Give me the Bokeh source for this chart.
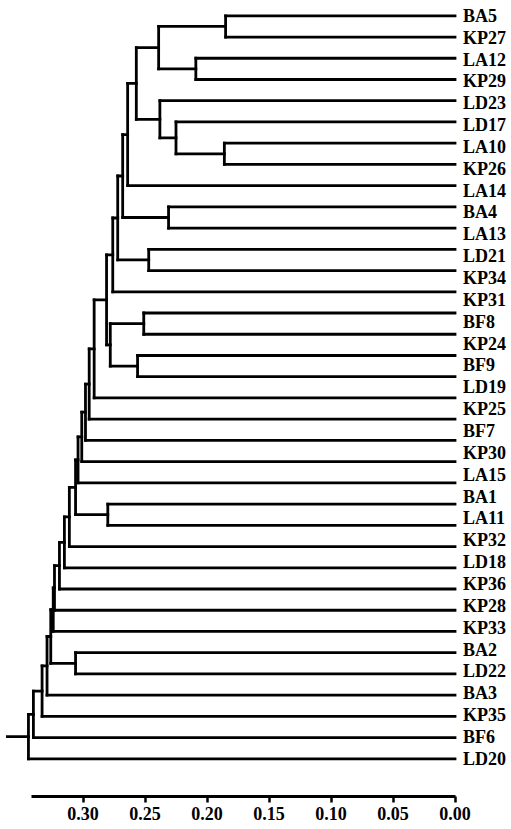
from bokeh.plotting import figure
from bokeh.models import Range1d, LinearAxis, FixedTicker, NumeralTickFormatter, ColumnDataSource
from bokeh.core.properties import value
from bokeh.embed import file_html
from bokeh.resources import INLINE

# ---- data -------------------------------------------------------------
# leaf order from top to bottom ("" = a branch drawn without a label)
leaves = ["BA5", "KP27", "LA12", "KP29", "LD23", "LD17", "LA10", "KP26",
          "LA14", "BA4", "LA13", "LD21", "KP34", "KP31", "BF8", "KP24",
          "BF9", "LD19", "", "KP25", "BF7", "KP30", "LA15", "BA1", "LA11",
          "KP32", "LD18", "KP36", "KP28", "KP33", "BA2", "LD22", "BA3",
          "KP35", "BF6", "LD20"]

# merges (node n1 ... n35 in order): child a, child b, distance
merge_a = ["BA5", "LA12", "n1", "LA10", "LD17", "LD23", "n3", "n7", "BA4",
           "n8", "LD21", "n10", "n12", "BF8", "BF9", "n14", "n13", "n17",
           "n18", "n19", "n20", "n21", "BA1", "n22", "n24", "n25", "n26",
           "n27", "n28", "BA2", "n29", "n31", "n32", "n33", "n34"]
merge_b = ["KP27", "KP29", "n2", "KP26", "n4", "n5", "n6", "LA14", "LA13",
           "n9", "KP34", "n11", "KP31", "KP24", "LD19", "n15", "n16", "",
           "KP25", "BF7", "KP30", "LA15", "LA11", "n23", "KP32", "LD18",
           "KP36", "KP28", "KP33", "LD22", "n30", "BA3", "KP35", "BF6",
           "LD20"]
merge_h = [0.185, 0.209, 0.239, 0.186, 0.225, 0.238, 0.257, 0.264, 0.231,
           0.268, 0.247, 0.272, 0.276, 0.251, 0.256, 0.278, 0.281, 0.291,
           0.295, 0.298, 0.301, 0.304, 0.280, 0.306, 0.311, 0.315, 0.319,
           0.323, 0.324, 0.306, 0.326, 0.329, 0.333, 0.340, 0.344]

axis_ticks = [0.00, 0.05, 0.10, 0.15, 0.20, 0.25, 0.30]
axis_end = 0.3415

# ---- build segments ---------------------------------------------------
pos = {name: (float(i), 0.0) for i, name in enumerate(leaves)}
x0, y0, x1, y1 = [], [], [], []
for k, (a, b, h) in enumerate(zip(merge_a, merge_b, merge_h)):
    ya, ha = pos[a]
    yb, hb = pos[b]
    x0 += [ha, hb, h]
    y0 += [ya, yb, ya]
    x1 += [h, h, h]
    y1 += [ya, yb, yb]
    pos["n%d" % (k + 1)] = ((ya + yb) / 2.0, h)

root_y, root_h = pos["n%d" % len(merge_h)]
stub = 0.017
x0.append(root_h)
y0.append(root_y)
x1.append(root_h + stub)
y1.append(root_y)

seg = ColumnDataSource(dict(x0=x0, y0=y0, x1=x1, y1=y1))

labels = [l for l in leaves if l]
n_leaf = len(leaves)
label_y = [j * (n_leaf - 1) / (len(labels) - 1) for j in range(len(labels))]
lab = ColumnDataSource(dict(x=[0.0] * len(labels), y=label_y, text=labels))

# ---- figure -----------------------------------------------------------
W, H = 511, 829
frame_h = 796
px_per_unit = 1240.0
zero_px = 454.5
leaf_top_px, leaf_step_px = 15.3, 21.23

x_start = zero_px / px_per_unit
x_end = x_start - W / px_per_unit
y_top = -leaf_top_px / leaf_step_px
y_bottom = (frame_h - leaf_top_px) / leaf_step_px

p = figure(width=W, height=H, output_backend="svg", toolbar_location=None,
           x_range=Range1d(x_start, x_end), y_range=Range1d(y_bottom, y_top),
           x_axis_location=None, y_axis_location=None,
           min_border_left=0, min_border_right=0, min_border_top=0,
           min_border_bottom=H - frame_h)
p.outline_line_color = None
p.xgrid.visible = False
p.ygrid.visible = False
p.background_fill_color = "white"
p.border_fill_color = "white"

p.segment(x0="x0", y0="y0", x1="x1", y1="y1", source=seg,
          line_color="black", line_width=2.8, line_cap="square")

p.text(x="x", y="y", text="text", source=lab, x_offset=8,
       text_font=value("Liberation Serif"), text_font_size="18px",
       text_font_style="bold",
       text_baseline="middle", text_align="left", text_color="black")

ax = LinearAxis(ticker=FixedTicker(ticks=axis_ticks),
                formatter=NumeralTickFormatter(format="0.00"),
                bounds=(0, axis_end))
ax.axis_line_width = 2.8
ax.axis_line_color = "black"
ax.major_tick_line_width = 2.5
ax.major_tick_line_color = "black"
ax.major_tick_out = 6
ax.major_tick_in = 0
ax.minor_tick_out = 0
ax.minor_tick_in = 0
ax.major_label_standoff = 4
ax.major_label_text_font = "Liberation Serif"
ax.major_label_text_font_size = "18px"
ax.major_label_text_font_style = "bold"
ax.major_label_text_color = "black"
p.add_layout(ax, "below")

open("out.html", "w").write(file_html(p, INLINE))
